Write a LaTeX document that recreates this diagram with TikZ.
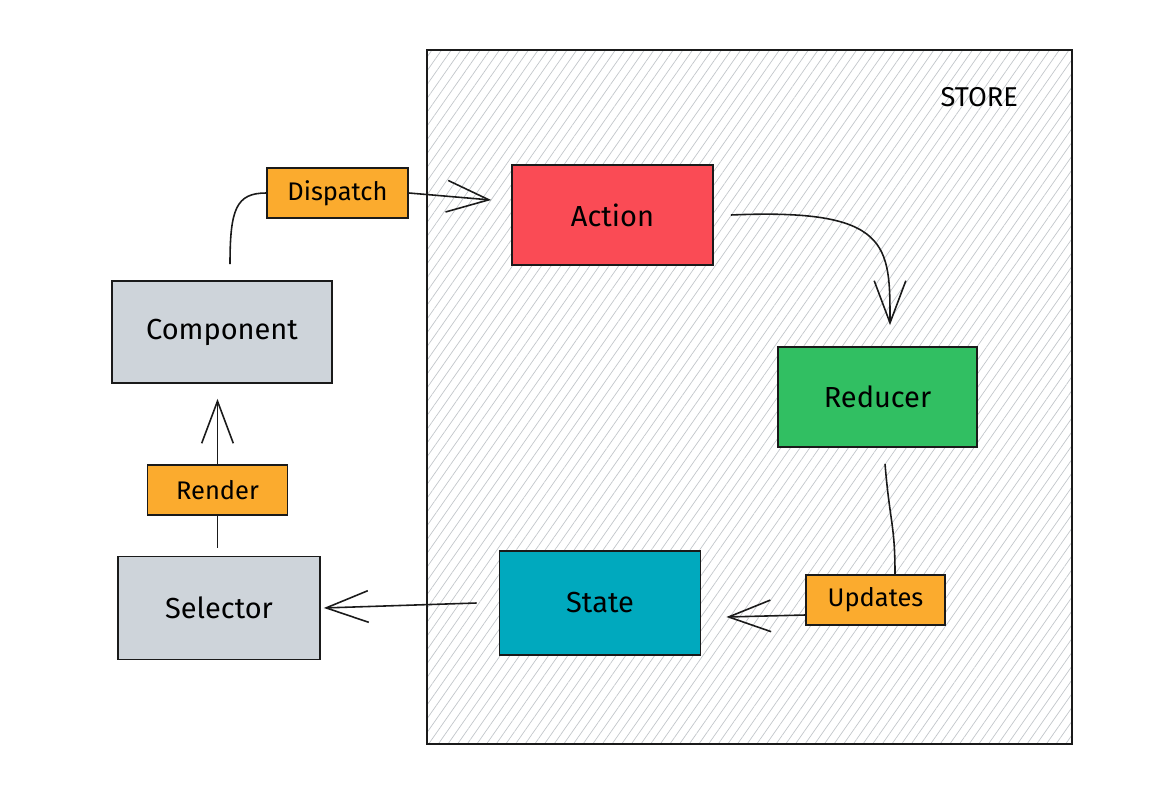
\documentclass[tikz,border=0pt]{standalone}
\usepackage{fontspec}
\setmainfont{Fira Sans}
\usepackage{xcolor}
\usepackage{tikz}
\usetikzlibrary{arrows.meta,positioning,patterns.meta}
\definecolor{actionred}{HTML}{FA4B55}
\definecolor{reducergreen}{HTML}{31BF62}
\definecolor{stateteal}{HTML}{00A9BE}
\definecolor{tagorange}{HTML}{FBAB2E}
\definecolor{greyfill}{HTML}{CED4DA}
\definecolor{hatch}{HTML}{C2C6CA}
\definecolor{ink}{HTML}{1A1A1A}
\tikzset{
  mainbox/.style={
    rectangle, draw=ink, fill=#1, line width=1pt,
    minimum width=4cm, minimum height=2cm,
    font=\fontsize{16.5}{19}\selectfont, inner sep=4pt
  },
  mainbox/.default=greyfill,
  tagbox/.style={
    rectangle, draw=ink, fill=tagorange, line width=1pt,
    minimum width=2.8cm, minimum height=1cm,
    font=\fontsize{14.5}{17}\selectfont, inner sep=3pt
  },
  storebox/.style={rectangle, draw=ink, line width=1pt,
    pattern={Lines[angle=55,distance=4.5pt,line width=0.4pt]},
    pattern color=hatch,
    minimum width=12.9cm, minimum height=13.88cm},
  flowarrow/.style={
    -{Straight Barb[length=24pt,width=18pt]}, line width=0.9pt, draw=ink
  },
  flowline/.style={line width=0.9pt, draw=ink},
}
\begin{document}
\begin{tikzpicture}[x=0.02cm, y=-0.02cm]
  \useasboundingbox (0,0) rectangle (1165,791);
  % store area
  \node[storebox] (store) at (749.5,397) {};
  \node[font=\fontsize{15.5}{18}\selectfont] (storelabel) at ([shift={(-1.86cm,-0.94cm)}]store.north east) {STORE};
  \node[mainbox=actionred, minimum width=4.02cm] (action) at (612.5,215) {Action};
  \node[mainbox=reducergreen, minimum width=3.98cm] (reducer) at (877.5,397) {Reducer};
  \node[mainbox=stateteal, minimum width=4.02cm, minimum height=2.08cm] (state) at (600,603) {State};
  \node[tagbox, minimum width=2.78cm] (updates) at (875.5,600) {Updates};
  % outside the store
  \node[mainbox, minimum width=4.4cm, minimum height=2.04cm] (component) at (222,332) {Component};
  \node[tagbox, below=1.6cm of component, xshift=-0.09cm] (render) {Render};
  \node[mainbox, below=0.8cm of render, xshift=0.03cm, minimum width=4.04cm, minimum height=2.06cm] (selector) {Selector};
  \node[tagbox, minimum width=2.82cm] (dispatch) at (337.5,193) {Dispatch};
  \coordinate (selectortop) at (render.south |- selector.north);
  % connectors
  \draw[flowline] ([shift={(0.16cm,0.32cm)}]component.north) .. controls +(0,1.1cm) and +(-0.6cm,0) .. (dispatch.west);
  \draw[flowarrow] (dispatch.east) -- ([shift={(-0.4cm,0.3cm)}]action.west);
  \draw[flowarrow] ([xshift=0.34cm]action.east) .. controls +(3.2cm,0.14cm) and +(0,1.6cm) .. ([shift={(0.25cm,0.42cm)}]reducer.north);
  \draw[flowline] ([shift={(0.15cm,-0.32cm)}]reducer.south) .. controls +(0.1cm,-1.2cm) and +(0,1.0cm) .. ([xshift=0.39cm]updates.north);
  \draw[flowarrow] ([yshift=-0.3cm]updates.west) -- ([shift={(0.5cm,-0.28cm)}]state.east);
  \draw[flowarrow] ([xshift=-0.44cm]state.west) -- ([xshift=0.06cm]selector.east);
  \draw[flowline] ([yshift=0.16cm]selectortop) -- (render.south);
  \draw[flowarrow] (render.north) -- ([xshift=-0.09cm, yshift=-0.3cm]component.south);
\end{tikzpicture}
\end{document}
